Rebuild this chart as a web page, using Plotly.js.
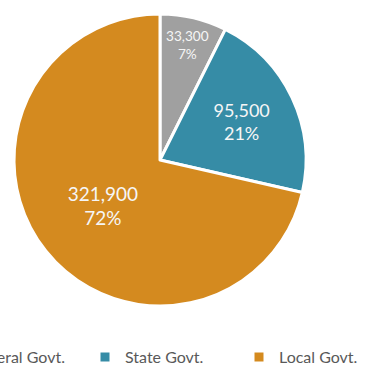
<!DOCTYPE html>
<html>
<head>
<meta charset="utf-8">
<script src="https://cdn.plot.ly/plotly-3.0.1.min.js"></script>
<style>
html,body{margin:0;padding:0;overflow:hidden;background:#fff;width:373px;height:365px;}
#chart{position:absolute;left:-69px;top:0;width:500px;height:374px;}
</style>
</head>
<body>
<div id="chart"></div>
<script>
var categories = ['Federal Govt.', 'State Govt.', 'Local Govt.'];
var values = [33300, 95500, 321900];
var percentLabels = ['7%', '21%', '72%'];
var colors = ['#a0a0a0', '#368ca6', '#d48a1f'];

var valueText = values.map(function(v){ return v.toLocaleString('en-US'); });

var W = 500, H = 374;
var cx = 229, cy = 160, R = 146;
var trace = {
  type: 'pie',
  labels: categories,
  values: values,
  text: percentLabels,
  customdata: valueText,
  texttemplate: '%{customdata}<br>%{text}',
  textinfo: 'text',
  textposition: 'inside',
  insidetextorientation: 'horizontal',
  sort: false,
  direction: 'clockwise',
  rotation: 0,
  marker: {colors: colors, line: {color: '#ffffff', width: 3}},
  textfont: {family: 'Lato, sans-serif', size: [14, 18, 19], color: '#f6f6f6'},
  hoverinfo: 'none',
  domain: {x: [(cx - R)/W, (cx + R)/W], y: [1 - (cy + R)/H, 1 - (cy - R)/H]}
};

var layout = {
  width: W, height: H,
  margin: {l: 0, r: 0, t: 0, b: 0},
  paper_bgcolor: '#ffffff',
  showlegend: true,
  legend: {
    orientation: 'h',
    x: 0, xanchor: 'left',
    y: 0, yanchor: 'bottom',
    entrywidth: 109, entrywidthmode: 'pixels',
    itemwidth: 30,
    font: {family: 'Lato, sans-serif', size: 16, color: '#595959'},
    traceorder: 'normal'
  }
};

Plotly.newPlot('chart', [trace], layout, {displayModeBar: false, staticPlot: true});
</script>
</body>
</html>
